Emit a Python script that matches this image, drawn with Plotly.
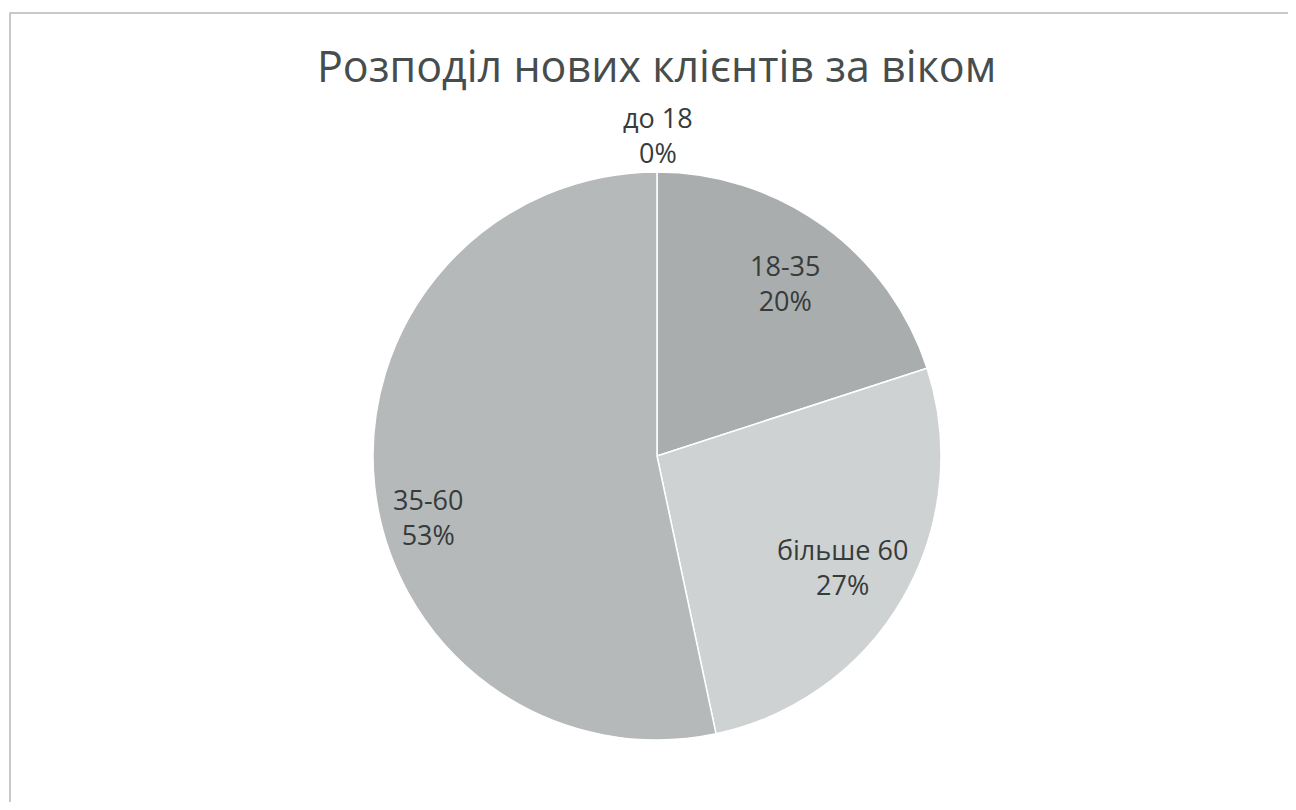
import plotly.graph_objects as go

categories = ["до 18", "18-35", "більше 60", "35-60"]
counts = [0, 3, 4, 8]
colors = ["#9fa3a3", "#a9adad", "#cfd2d2", "#b6b9b9"]
title_text = "Розподіл нових клієнтів за віком"

OFF = 8  # page body margin
W, H = 1296 - 2 * OFF, 810 - 2 * OFF


def px(x):
    return (x - OFF) / W


def py(y):
    return 1 - (y - OFF) / H


cx, cy, R = 657, 456, 284

total = sum(counts)
pct = [round(100 * v / total) for v in counts]

fig = go.Figure()
fig.add_trace(go.Pie(
    labels=categories,
    values=counts,
    sort=False,
    direction="clockwise",
    rotation=0,
    marker=dict(colors=colors, line=dict(color="#ffffff", width=1.5)),
    textinfo="none",
    hoverinfo="label+percent",
    showlegend=False,
    domain=dict(x=[px(cx - R), px(cx + R)], y=[py(cy + R), py(cy - R)]),
))

# data label placement (pixel positions in the reference, text only)
label_pos = {
    "до 18": (658, 135),
    "18-35": (785, 283),
    "більше 60": (842, 567),
    "35-60": (428, 517),
}
for c, p in zip(categories, pct):
    x, y = label_pos[c]
    fig.add_annotation(
        x=px(x), y=py(y), xref="paper", yref="paper",
        text=f"{c}<br>{p}%", showarrow=False, borderpad=0,
        font=dict(family="Open Sans, sans-serif", size=27, color="#363b3b"),
        align="center", xanchor="center", yanchor="middle",
    )

fig.add_annotation(
    x=px(656), y=py(66), xref="paper", yref="paper",
    text=title_text, showarrow=False, borderpad=0,
    font=dict(family="Open Sans, sans-serif", size=43, color="#474c4c"),
    xanchor="center", yanchor="middle",
)

fig.add_shape(type="rect", xref="paper", yref="paper",
              x0=px(10), x1=1.02, y0=-0.02, y1=py(13),
              line=dict(color="#b8b8b8", width=1.5))

fig.update_layout(
    width=W, height=H,
    margin=dict(l=0, r=0, t=0, b=0),
    paper_bgcolor="#ffffff",
    plot_bgcolor="#ffffff",
)

fig.write_html("out.html")
